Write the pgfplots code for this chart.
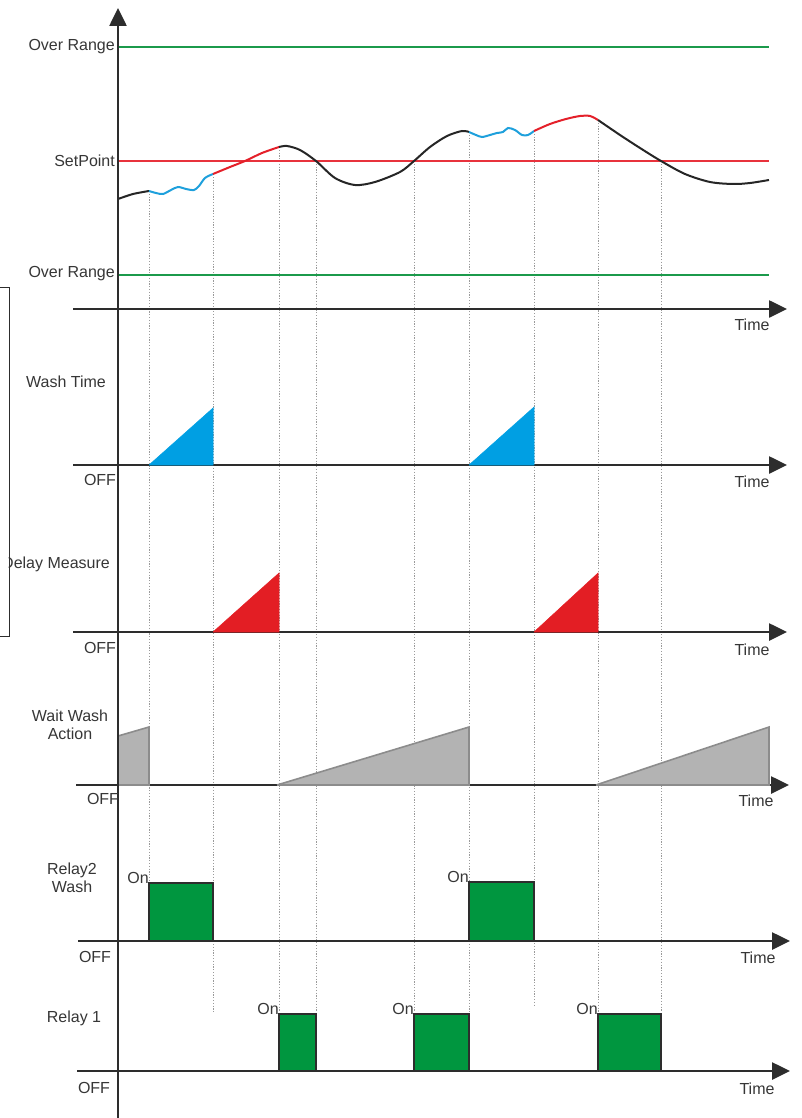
\documentclass[border=0pt]{standalone}
\usepackage{fontspec}
\setmainfont{Liberation Sans}
\usepackage{pgfplots}
\pgfplotsset{compat=1.18}
\usetikzlibrary{arrows.meta}
\definecolor{axcol}{HTML}{2D2D2D}
\definecolor{txtcol}{HTML}{363636}
\definecolor{rangegreen}{HTML}{1B9A4B}
\definecolor{spred}{HTML}{E8323C}
\definecolor{curveblue}{HTML}{1EA0DC}
\definecolor{curvered}{HTML}{E4202A}
\definecolor{washblue}{HTML}{009FE3}
\definecolor{delayred}{HTML}{E31E24}
\definecolor{relgreen}{HTML}{00963F}
\definecolor{waitfill}{HTML}{B3B3B3}
\definecolor{waitline}{HTML}{8C8C8C}
\definecolor{dotcol}{HTML}{9A9A9A}
\tikzset{lab/.style={text=txtcol, font=\fontsize{16}{18.5}\selectfont, inner sep=0pt}}
\begin{document}
\begin{tikzpicture}
\clip (0,0) rectangle (801pt,1118pt);
\begin{axis}[at={(0pt,0pt)}, anchor=south west, width=801pt, height=1118pt, scale only axis,
  xmin=0, xmax=801, ymin=0, ymax=1118, y dir=reverse, hide axis, clip=false,
  arr/.style={axcol, line width=2.6pt, -{Triangle[length=18pt,width=17pt]}},
  dotl/.style={dotcol, line width=0.8pt, dash pattern=on 1.2pt off 1.6pt}]
% dotted guide lines
\addplot[dotl] coordinates {(149,191) (149,883)};
\addplot[dotl] coordinates {(213,174) (213,1012)};
\addplot[dotl] coordinates {(279,147) (279,1012)};
\addplot[dotl] coordinates {(316,161) (316,1012)};
\addplot[dotl] coordinates {(414,161) (414,1012)};
\addplot[dotl] coordinates {(469,132) (469,1012)};
\addplot[dotl] coordinates {(534,131) (534,1005)};
\addplot[dotl] coordinates {(598,120) (598,1012)};
\addplot[dotl] coordinates {(661,161) (661,1012)};
% top panel reference lines
\addplot[rangegreen, line width=2.4pt] coordinates {(118,47) (769,47)};
\addplot[spred, line width=1.5pt] coordinates {(118,161) (769,161)};
\addplot[rangegreen, line width=2.6pt] coordinates {(118,275) (769,275)};
% measured curve
\addplot[black!85, line width=2pt, smooth] coordinates {(118,199) (133,194) (149,191)};
\addplot[curveblue, line width=2pt, smooth] coordinates {(149,191) (156,193) (163,194) (171,190) (178,187) (186,189) (194,190) (199,186) (205,178) (213,174)};
\addplot[curvered, line width=2pt, smooth] coordinates {(213,174) (230,167) (245,161) (262,153) (279,147)};
\addplot[black!85, line width=2pt, smooth] coordinates {(279,147) (287,146) (300,150) (316,161) (335,178) (355,185) (375,182) (400,172) (414,161) (430,147) (447,136) (462,131) (469,132)};
\addplot[curveblue, line width=2pt, smooth] coordinates {(469,132) (476,135) (482,137) (490,135) (497,133) (503,132) (508,128) (515,130) (522,135) (528,135) (534,131)};
\addplot[curvered, line width=2pt, smooth] coordinates {(534,131) (550,124) (566,119) (580,116) (590,116) (598,120)};
\addplot[black!85, line width=2pt, smooth] coordinates {(598,120) (620,135) (640,148) (661,161) (685,174) (710,182) (733,184) (750,183) (769,180)};
% baselines with arrows
\addplot[arr] coordinates {(73,309) (787,309)};
\addplot[arr] coordinates {(73,465) (787,465)};
\addplot[arr] coordinates {(73,632) (787,632)};
\addplot[arr] coordinates {(76,785) (789,785)};
\addplot[arr] coordinates {(78,941) (790,941)};
\addplot[arr] coordinates {(77,1071) (790,1071)};
% wash time ramps
\addplot[fill=washblue, draw=washblue, line width=0.5pt] coordinates {(149,465) (213,408) (213,465) (149,465)};
\addplot[fill=washblue, draw=washblue, line width=0.5pt] coordinates {(469,465) (534,407) (534,465) (469,465)};
% delay measure ramps
\addplot[fill=delayred, draw=delayred, line width=0.5pt] coordinates {(213,632) (279,573) (279,632) (213,632)};
\addplot[fill=delayred, draw=delayred, line width=0.5pt] coordinates {(534,632) (598,573) (598,632) (534,632)};
% wait wash action
\addplot[fill=waitfill, draw=waitline, line width=1.6pt] coordinates {(118,785) (118,736) (149,727) (149,785) (118,785)};
\addplot[fill=waitfill, draw=waitline, line width=1.6pt] coordinates {(277,785) (469,727) (469,785) (277,785)};
\addplot[fill=waitfill, draw=waitline, line width=1.6pt] coordinates {(596,785) (769,727) (769,785) (596,785)};
% relay 2 wash
\addplot[fill=relgreen, draw=axcol, line width=2pt] coordinates {(149,941) (149,883) (213,883) (213,941) (149,941)};
\addplot[fill=relgreen, draw=axcol, line width=2pt] coordinates {(469,941) (469,882) (534,882) (534,941) (469,941)};
% relay 1
\addplot[fill=relgreen, draw=axcol, line width=2pt] coordinates {(279,1071) (279,1014) (316,1014) (316,1071) (279,1071)};
\addplot[fill=relgreen, draw=axcol, line width=2pt] coordinates {(414,1071) (414,1014) (469,1014) (469,1071) (414,1071)};
\addplot[fill=relgreen, draw=axcol, line width=2pt] coordinates {(598,1071) (598,1014) (661,1014) (661,1071) (598,1071)};
% vertical axis
\addplot[arr] coordinates {(118,1118) (118,8)};
% labels
\node[lab, anchor=east] at (axis cs:115,47) {Over Range};
\node[lab, anchor=east] at (axis cs:115,161) {SetPoint};
\node[lab, anchor=east] at (axis cs:115,274) {Over Range};
\node[lab] at (axis cs:66,382) {Wash Time};
\node[lab, anchor=east] at (axis cs:110,564) {Delay Measure};
\node[lab, align=center] at (axis cs:70,725) {Wait Wash\\Action};
\node[lab, align=center] at (axis cs:72,878) {Relay2\\Wash};
\node[lab] at (axis cs:74,1018) {Relay 1};
\node[lab] at (axis cs:100,480) {OFF};
\node[lab] at (axis cs:100,648) {OFF};
\node[lab] at (axis cs:103,799) {OFF};
\node[lab] at (axis cs:95,957) {OFF};
\node[lab] at (axis cs:94,1088) {OFF};
\node[lab] at (axis cs:752,325) {Time};
\node[lab] at (axis cs:752,482) {Time};
\node[lab] at (axis cs:752,650) {Time};
\node[lab] at (axis cs:756,801) {Time};
\node[lab] at (axis cs:758,958) {Time};
\node[lab] at (axis cs:757,1089) {Time};
\node[lab] at (axis cs:138,878) {On};
\node[lab] at (axis cs:458,877) {On};
\node[lab] at (axis cs:268,1009) {On};
\node[lab] at (axis cs:403,1009) {On};
\node[lab] at (axis cs:587,1009) {On};
% left bracket (box edge) hiding the start of the label
\addplot[fill=white, draw=none] coordinates {(0,288) (8.5,288) (8.5,636) (0,636) (0,288)};
\addplot[axcol, line width=1pt] coordinates {(0,287) (9,287) (9,636) (0,636)};
\end{axis}
\end{tikzpicture}
\end{document}
